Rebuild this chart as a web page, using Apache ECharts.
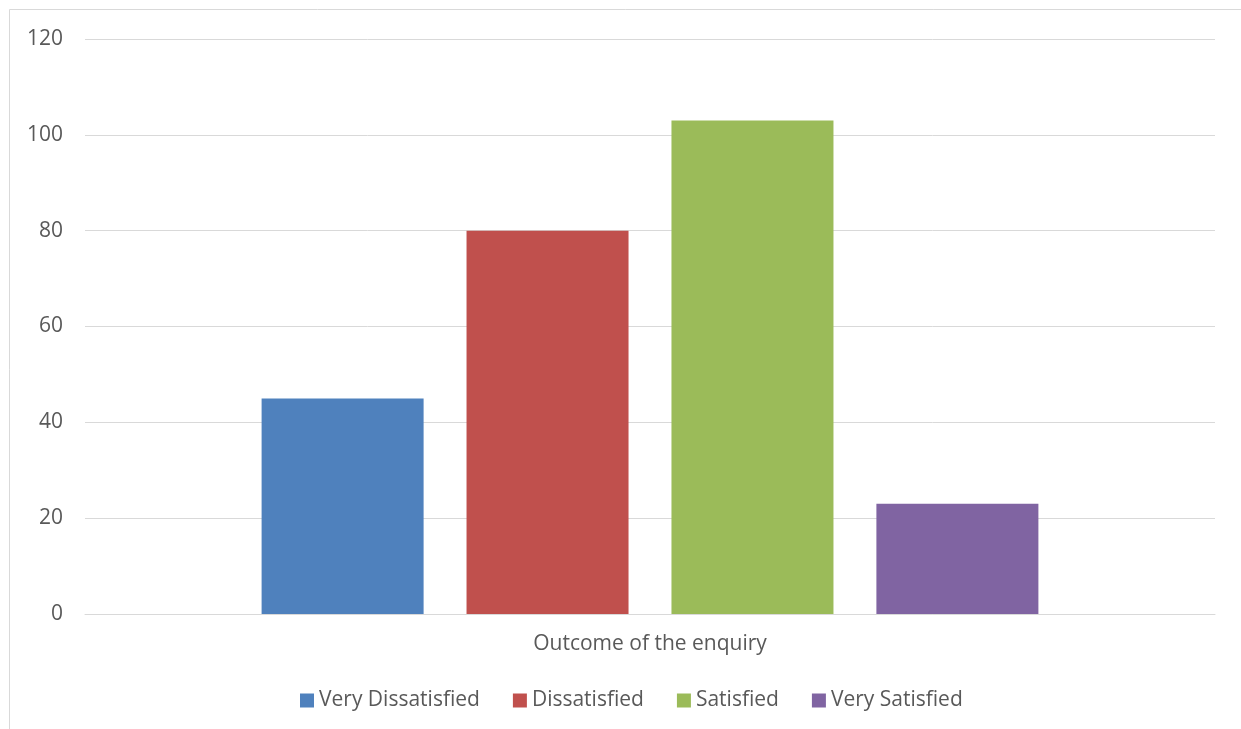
<!DOCTYPE html>
<html>
<head>
<meta charset="utf-8">
<script src="https://cdn.jsdelivr.net/npm/echarts@6/dist/echarts.min.js"></script>
<style>
  html, body { margin: 0; padding: 0; background: #fff; }
  #chart { width: 1241px; height: 729px; }
</style>
</head>
<body>
<div id="chart"></div>
<script>
// Survey responses on the outcome of the enquiry
const categories = ['Outcome of the enquiry'];
const seriesNames = ['Very Dissatisfied', 'Dissatisfied', 'Satisfied', 'Very Satisfied'];
const veryDissatisfied = [45];
const dissatisfied = [80];
const satisfied = [103];
const verySatisfied = [23];
const seriesColors = ['#4F81BD', '#C0504D', '#9BBB59', '#8064A2'];

const seriesValues = [veryDissatisfied, dissatisfied, satisfied, verySatisfied];
const font = '"Open Sans", sans-serif';
const textColor = '#595959';

const chart = echarts.init(document.getElementById('chart'), null, { renderer: 'canvas' });

chart.setOption({
  backgroundColor: '#fff',
  animation: false,
  textStyle: { fontFamily: font },
  graphic: [{
    type: 'rect',
    shape: { x: 9.5, y: 9.5, width: 1240, height: 730 },
    style: { fill: 'none', stroke: '#d9d9d9', lineWidth: 1 },
    silent: true
  }],
  grid: { left: 85, right: 26, top: 39, bottom: 115, containLabel: false },
  legend: {
    data: seriesNames,
    top: 685,
    left: 295,
    itemWidth: 14,
    itemHeight: 14,
    itemGap: 33,
    icon: 'rect',
    textStyle: { color: textColor, fontSize: 21, fontFamily: font, padding: [0, 0, 0, 0] }
  },
  xAxis: {
    type: 'category',
    data: categories,
    axisLine: { show: true, lineStyle: { color: '#d9d9d9', width: 1 } },
    axisTick: { show: false },
    axisLabel: { color: textColor, fontSize: 21, fontFamily: font, margin: 20 }
  },
  yAxis: {
    type: 'value',
    min: 0,
    max: 120,
    interval: 20,
    axisLine: { show: false },
    axisTick: { show: false },
    splitLine: { lineStyle: { color: '#d9d9d9', width: 1 } },
    axisLabel: { color: textColor, fontSize: 21, fontFamily: font, margin: 22 }
  },
  series: seriesNames.map((name, i) => ({
    name: name,
    type: 'bar',
    data: seriesValues[i],
    barWidth: 162,
    barGap: '26.5%',
    itemStyle: { color: seriesColors[i] }
  }))
});
</script>
</body>
</html>
